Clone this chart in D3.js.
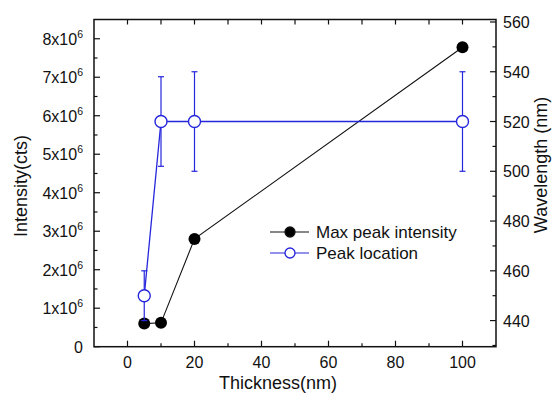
<!DOCTYPE html>
<html>
<head>
<meta charset="utf-8">
<script src="https://cdn.jsdelivr.net/npm/d3@7"></script>
<style>
  html, body { margin: 0; padding: 0; background: #fff; }
  text { font-family: "Liberation Sans", Arial, sans-serif; fill: #111; }
</style>
</head>
<body>
<svg id="chart" width="558" height="396"></svg>
<script>
// ---- data ----
const thickness = [5, 10, 20, 100];
const intensity = [0.6e6, 0.62e6, 2.8e6, 7.78e6];
const wavelength = [450, 520, 520, 520];
const wavelengthErr = [10, 18, 20, 20];
const xTicks = [0, 20, 40, 60, 80, 100];
const leftTicks = [0, 1, 2, 3, 4, 5, 6, 7, 8];       // x10^6
const rightTicks = [440, 460, 480, 500, 520, 540, 560];
const seriesNames = ["Max peak intensity", "Peak location"];

const svg = d3.select("#chart");
const L = 94, R = 496, T = 19.5, B = 346.7;
const blue = "#2626dc";

const x = d3.scaleLinear().domain([-10, 110]).range([L, R]);
const yL = d3.scaleLinear().domain([0, 8.5e6]).range([B, T]);
const yR = d3.scaleLinear().domain([429.5, 561]).range([B, T]);

// ---- axes ticks (inward) ----
const g = svg.append("g");
function tickLines(vals, fn, len) {
  vals.forEach(v => { const [x1,y1,x2,y2] = fn(v, len);
    g.append("line").attr("x1",x1).attr("y1",y1).attr("x2",x2).attr("y2",y2)
      .attr("stroke","#111").attr("stroke-width",1.2); });
}
const xMajor = xTicks, xMinor = d3.range(10, 110, 20);
tickLines(xMajor, (v,l)=>[x(v),B,x(v),B-l], 6);
tickLines(xMinor, (v,l)=>[x(v),B,x(v),B-l], 3.5);
tickLines(xMajor.concat(xMinor), (v,l)=>[x(v),T,x(v),T+l], 5);
const lMinor = d3.range(0.5, 8.5, 1);
tickLines(leftTicks, (v,l)=>[L,yL(v*1e6),L+l,yL(v*1e6)], 6);
tickLines(lMinor, (v,l)=>[L,yL(v*1e6),L+l,yL(v*1e6)], 3.5);
const rMinor = d3.range(430, 561, 20);
tickLines(rightTicks, (v,l)=>[R,yR(v),R-l,yR(v)], 6);
tickLines(rMinor, (v,l)=>[R,yR(v),R-l,yR(v)], 3.5);

// frame
svg.append("rect").attr("x",L).attr("y",T).attr("width",R-L).attr("height",B-T)
  .attr("fill","none").attr("stroke","#111").attr("stroke-width",1.5);

// tick labels
xTicks.forEach(v => svg.append("text").attr("x", x(v)).attr("y", B+21)
  .attr("text-anchor","middle").attr("font-size",16).text(v));
leftTicks.forEach(v => {
  const t = svg.append("text").attr("x", 83).attr("y", yL(v*1e6)+6)
    .attr("text-anchor","end").attr("font-size",16);
  if (v === 0) { t.text("0"); }
  else {
    t.append("tspan").text(v + "x10");
    t.append("tspan").attr("font-size",10.5).attr("dy",-7).text("6");
  }
});
rightTicks.forEach(v => svg.append("text").attr("x", 503).attr("y", yR(v)+6)
  .attr("text-anchor","start").attr("font-size",16).text(v));

// axis titles
svg.append("text").attr("x", 278).attr("y", 389).attr("text-anchor","middle")
  .attr("font-size",18).text("Thickness(nm)");
svg.append("text").attr("transform","translate(27,186) rotate(-90)")
  .attr("text-anchor","middle").attr("font-size",18).text("Intensity(cts)");
svg.append("text").attr("transform","translate(547,165) rotate(-90)")
  .attr("text-anchor","middle").attr("font-size",18).text("Wavelength (nm)");

// ---- series: intensity ----
const pI = thickness.map((t,i)=>[x(t), yL(intensity[i])]);
svg.append("path").attr("d", d3.line()(pI)).attr("fill","none")
  .attr("stroke","#111").attr("stroke-width",1.1);
svg.selectAll(".ci").data(pI).enter().append("circle")
  .attr("cx",d=>d[0]).attr("cy",d=>d[1]).attr("r",6).attr("fill","#000");

// ---- series: wavelength ----
const pW = thickness.map((t,i)=>[x(t), yR(wavelength[i])]);
thickness.forEach((t,i) => {
  const cx = x(t), y1 = yR(wavelength[i]+wavelengthErr[i]), y2 = yR(wavelength[i]-wavelengthErr[i]);
  svg.append("line").attr("x1",cx).attr("x2",cx).attr("y1",y1).attr("y2",y2)
    .attr("stroke",blue).attr("stroke-width",1.2);
  [y1,y2].forEach(yy => svg.append("line").attr("x1",cx-3).attr("x2",cx+3)
    .attr("y1",yy).attr("y2",yy).attr("stroke",blue).attr("stroke-width",1.2));
});
svg.append("path").attr("d", d3.line()(pW)).attr("fill","none")
  .attr("stroke",blue).attr("stroke-width",1.3);
svg.selectAll(".cw").data(pW).enter().append("circle")
  .attr("cx",d=>d[0]).attr("cy",d=>d[1]).attr("r",6)
  .attr("fill","#fff").attr("stroke",blue).attr("stroke-width",1.4);

// ---- legend ----
const leg = [{c:"#111", fill:"#000", y:232}, {c:blue, fill:"#fff", y:253}];
leg.forEach((d,i) => {
  svg.append("line").attr("x1",270).attr("x2",309).attr("y1",d.y).attr("y2",d.y)
    .attr("stroke",d.c).attr("stroke-width",1.2);
  svg.append("circle").attr("cx",290).attr("cy",d.y).attr("r",5)
    .attr("fill",d.fill).attr("stroke",d.c).attr("stroke-width",1.3);
  svg.append("text").attr("x",316).attr("y",d.y+6).attr("font-size",17)
    .text(seriesNames[i]);
});
</script>
</body>
</html>
